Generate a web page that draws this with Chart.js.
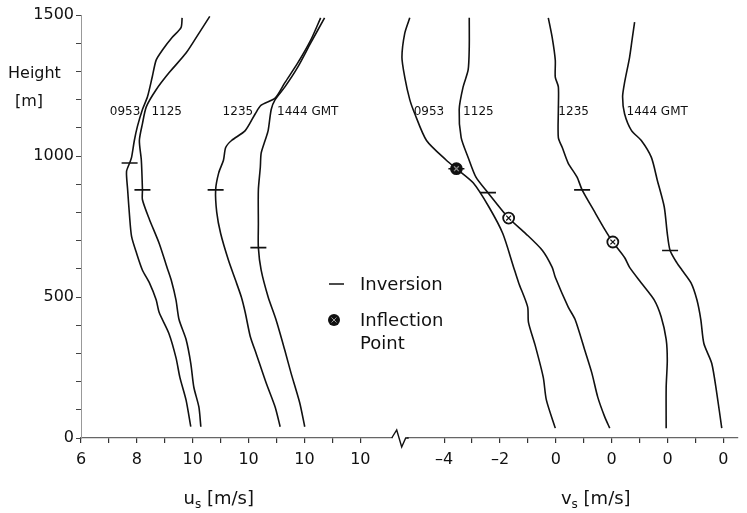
<!DOCTYPE html>
<html>
<head>
<meta charset="utf-8">
<script src="https://cdn.jsdelivr.net/npm/chart.js@4.4.1/dist/chart.umd.min.js"></script>
<style>
  html, body { margin: 0; padding: 0; background: #fff; }
  canvas { display: block; }
</style>
</head>
<body>
<canvas id="profiles" width="747" height="513"></canvas>
<script>
// --- profile times ---
const times = ['0953', '1125', '1235', '1444 GMT'];

// --- u_s profiles: heights [m] and speeds [m/s], bottom to top ---
const u0953H = [40, 135, 215, 285, 370, 445, 490, 550, 595, 655, 715, 785, 880, 945, 975, 995, 1055, 1105, 1165, 1210, 1280, 1340, 1375, 1420, 1455, 1490];
const u0953 = [9.93, 9.76, 9.54, 9.40, 9.15, 8.80, 8.69, 8.45, 8.20, 7.99, 7.81, 7.74, 7.67, 7.63, 7.74, 7.81, 7.91, 8.02, 8.20, 8.38, 8.55, 8.69, 8.91, 9.26, 9.58, 9.62];

const u1125H = [40, 110, 180, 265, 350, 420, 490, 560, 605, 690, 775, 845, 880, 985, 1055, 1115, 1175, 1235, 1295, 1365, 1435, 1495];
const u1125 = [8.29, 8.22, 8.04, 7.93, 7.76, 7.51, 7.40, 7.23, 7.08, 6.80, 6.45, 6.20, 6.20, 6.16, 6.09, 6.20, 6.34, 6.69, 7.15, 7.76, 8.22, 8.61];

const u1235H = [40, 110, 195, 300, 360, 445, 500, 560, 630, 725, 800, 880, 940, 985, 1030, 1055, 1090, 1150, 1180, 1205, 1260, 1330, 1410, 1490];
const u1235 = [9.13, 8.95, 8.63, 8.27, 8.06, 7.88, 7.74, 7.53, 7.28, 7.00, 6.86, 6.82, 6.93, 7.10, 7.18, 7.39, 7.88, 8.24, 8.45, 8.95, 9.30, 9.76, 10.22, 10.58];

const u1444H = [40, 125, 230, 310, 420, 500, 595, 675, 760, 880, 960, 1010, 1055, 1090, 1165, 1200, 1245, 1315, 1400, 1490];
const u1444 = [8.01, 7.83, 7.52, 7.30, 6.98, 6.70, 6.45, 6.35, 6.35, 6.35, 6.42, 6.45, 6.59, 6.70, 6.81, 6.95, 7.30, 7.76, 8.22, 8.72];

// --- v_s profiles ---
const v0953H = [35, 135, 215, 325, 410, 465, 550, 605, 725, 820, 905, 955, 985, 1055, 1150, 1200, 1280, 1350, 1435, 1490];
const v0953 = [-0.02, -0.34, -0.45, -0.73, -0.98, -1.01, -1.33, -1.51, -1.90, -2.40, -2.96, -3.56, -3.92, -4.63, -5.05, -5.23, -5.41, -5.51, -5.41, -5.23];

const v1125H = [35, 75, 145, 230, 310, 420, 465, 570, 605, 665, 725, 780, 870, 925, 995, 1065, 1165, 1245, 1305, 1385, 1490];
const v1125 = [-0.07, -0.25, -0.50, -0.71, -0.96, -1.31, -1.56, -2.02, -2.13, -2.48, -3.08, -3.69, -4.43, -4.86, -5.14, -5.39, -5.46, -5.32, -5.14, -5.10, -5.10];

const v1235H = [35, 180, 275, 350, 430, 490, 550, 605, 640, 695, 740, 800, 880, 925, 975, 1030, 1065, 1165, 1245, 1280, 1340, 1420, 1490];
const v1235 = [-0.05, -0.05, -0.01, -0.05, -0.23, -0.48, -0.94, -1.36, -1.54, -1.96, -2.25, -2.60, -3.06, -3.24, -3.56, -3.77, -3.91, -3.91, -3.91, -4.02, -4.02, -4.13, -4.27];

const v1444H = [35, 160, 265, 335, 420, 490, 550, 595, 620, 665, 725, 820, 915, 995, 1055, 1090, 1150, 1210, 1260, 1350, 1420, 1475];
const v1444 = [-0.06, -0.24, -0.42, -0.70, -0.81, -0.95, -1.16, -1.48, -1.66, -1.91, -2.01, -2.12, -2.37, -2.58, -2.94, -3.29, -3.54, -3.61, -3.54, -3.36, -3.26, -3.18];

// --- marked points (profile index, height, value) ---
const uInversionIdx = [0, 1, 2, 3];
const uInversionH = [975, 880, 880, 675];
const uInversion = [7.74, 6.20, 6.82, 6.35];

const vInversionIdx = [0, 1, 2, 3];
const vInversionH = [955, 870, 880, 665];
const vInversion = [-3.56, -4.43, -3.06, -1.91];

const vInflectionIdx = [0, 1, 2];
const vInflectionH = [955, 780, 695];
const vInflection = [-3.56, -3.69, -1.96];

// --- axis ticks ---
const uTickLabels = ['6', '8', '10', '10', '10', '10'];
const vTickLabels = ['\u20134', '\u20132', '0', '0', '0', '0'];
const yTickLabels = [0, 500, 1000, 1500];

// each profile is shifted by 2 m/s along the common x axis
const uShift = [-6, -4, -2, 0];
const vShift = [17, 19, 21, 23];
const uTickAt = [0, 2, 4, 6, 8, 10];
const vTickAt = [13, 15, 17, 19, 21, 23];

const INK = '#111';
const FONT = '"DejaVu Sans", sans-serif';

function toPoints(hs, vals, shift) {
    return hs.map((h, i) => ({ x: vals[i] + shift, y: h }));
}

function marks(idx, hs, vals, shifts) {
    return idx.map((p, i) => ({ x: vals[i] + shifts[p], y: hs[i] }));
}

function curve(points) {
    return {
        data: points,
        showLine: true,
        borderColor: INK,
        borderWidth: 1.6,
        pointRadius: 0,
        tension: 0.25,
        order: 5
    };
}

const uSeries = [[u0953H, u0953], [u1125H, u1125], [u1235H, u1235], [u1444H, u1444]];
const vSeries = [[v0953H, v0953], [v1125H, v1125], [v1235H, v1235], [v1444H, v1444]];

const datasets = [];
uSeries.forEach((s, i) => datasets.push(curve(toPoints(s[0], s[1], uShift[i]))));
vSeries.forEach((s, i) => datasets.push(curve(toPoints(s[0], s[1], vShift[i]))));

// inversion dashes
datasets.push({
    data: marks(uInversionIdx, uInversionH, uInversion, uShift)
        .concat(marks(vInversionIdx, vInversionH, vInversion, vShift)),
    pointStyle: 'line',
    pointRadius: 8,
    borderColor: INK,
    borderWidth: 1.6,
    order: 3
});

// inflection circles
const inflPoints = marks(vInflectionIdx, vInflectionH, vInflection, vShift);
datasets.push({
    data: inflPoints,
    pointStyle: 'circle',
    pointRadius: 5.5,
    pointBackgroundColor: ctx => ctx.dataIndex === 0 ? INK : '#fff',
    pointBorderColor: INK,
    pointBorderWidth: 1.8,
    order: 2
});
datasets.push({
    data: inflPoints,
    pointStyle: 'crossRot',
    pointRadius: 3.4,
    pointBorderColor: ctx => ctx.dataIndex === 0 ? '#888' : INK,
    pointBorderWidth: 1.3,
    order: 1
});

// --- texts drawn on top: profile labels, break mark, titles, key ---
const decorations = {
    id: 'decorations',
    afterDraw(chart) {
        const c = chart.ctx;
        const x = chart.scales.x;
        const y = chart.scales.y;
        c.save();
        c.fillStyle = INK;
        c.strokeStyle = INK;

        // time labels next to the curves
        c.font = '12px ' + FONT;
        c.textBaseline = 'alphabetic';
        c.textAlign = 'left';
        const labelY = y.getPixelForValue(1145);
        [1.03, 2.52, 5.07, 7.02].forEach((s, i) => c.fillText(times[i], x.getPixelForValue(s), labelY));
        [11.91, 13.68, 17.09, 19.53].forEach((s, i) => c.fillText(times[i], x.getPixelForValue(s), labelY));

        // axis break
        const bx = x.getPixelForValue(11.41);
        const by = x.top;
        c.fillStyle = '#fff';
        c.fillRect(bx - 7, by - 2, 14, 4);
        c.beginPath();
        c.lineWidth = 1.4;
        c.moveTo(bx - 8, by);
        c.lineTo(bx - 3, by - 8);
        c.lineTo(bx + 2, by + 9);
        c.lineTo(bx + 6, by);
        c.lineTo(bx + 9, by);
        c.stroke();

        // axis titles
        c.fillStyle = INK;
        const title = (sym, cx) => {
            c.font = '18px ' + FONT;
            const rest = ' [m/s]';
            const w1 = c.measureText(sym).width;
            const w3 = c.measureText(rest).width;
            c.font = '12px ' + FONT;
            const w2 = c.measureText('s').width;
            const left = cx - (w1 + w2 + w3) / 2;
            c.textAlign = 'left';
            c.font = '18px ' + FONT;
            c.fillText(sym, left, 504);
            c.font = '12px ' + FONT;
            c.fillText('s', left + w1, 508);
            c.font = '18px ' + FONT;
            c.fillText(rest, left + w1 + w2, 504);
        };
        title('u', x.getPixelForValue(4.93));
        title('v', x.getPixelForValue(18.43));

        // y title
        c.font = '16px ' + FONT;
        c.textAlign = 'left';
        c.fillText('Height', 8, 78);
        c.fillText('[m]', 15, 106);

        // key
        c.font = '18px ' + FONT;
        c.lineWidth = 1.5;
        c.beginPath();
        c.moveTo(329, 284);
        c.lineTo(344, 284);
        c.stroke();
        c.fillText('Inversion', 360, 290);

        c.beginPath();
        c.arc(334, 320, 6, 0, Math.PI * 2);
        c.fill();
        c.strokeStyle = '#999';
        c.lineWidth = 1;
        c.beginPath();
        c.moveTo(331.5, 317.5); c.lineTo(336.5, 322.5);
        c.moveTo(336.5, 317.5); c.lineTo(331.5, 322.5);
        c.stroke();
        c.fillText('Inflection', 360, 326);
        c.fillText('Point', 360, 349);
        c.restore();
    }
};

new Chart(document.getElementById('profiles'), {
    type: 'scatter',
    data: { datasets: datasets },
    options: {
        responsive: false,
        animation: false,
        events: [],
        layout: { padding: { left: 0, right: 3, top: 15, bottom: 0 } },
        plugins: {
            legend: { display: false },
            tooltip: { enabled: false }
        },
        scales: {
            x: {
                type: 'linear',
                min: 0,
                max: 23.5,
                afterFit: s => { s.height = 75; },
                afterBuildTicks: s => {
                    const t = [];
                    for (let v = 0; v <= 10; v++) t.push({ value: v });
                    for (let v = 13; v <= 23; v++) t.push({ value: v });
                    s.ticks = t;
                },
                ticks: {
                    autoSkip: false,
                    maxRotation: 0,
                    padding: 7,
                    color: INK,
                    font: { family: FONT, size: 16 },
                    callback: v => {
                        let i = uTickAt.indexOf(v);
                        if (i >= 0) return uTickLabels[i];
                        i = vTickAt.indexOf(v);
                        return i >= 0 ? vTickLabels[i] : '';
                    }
                },
                grid: { drawOnChartArea: false, tickLength: 5, color: '#333', lineWidth: 1.2 },
                border: { color: '#666', width: 1.2 }
            },
            y: {
                min: 0,
                max: 1500,
                afterFit: s => { s.width = 81; },
                ticks: {
                    stepSize: 100,
                    autoSkip: false,
                    padding: 2,
                    color: INK,
                    font: { family: FONT, size: 16 },
                    callback: v => yTickLabels.includes(v) ? String(v) : ''
                },
                grid: { drawOnChartArea: false, tickLength: 5, color: '#444', lineWidth: 1 },
                border: { color: '#999', width: 1, dash: [2, 2] }
            }
        }
    },
    plugins: [decorations]
});
</script>
</body>
</html>
